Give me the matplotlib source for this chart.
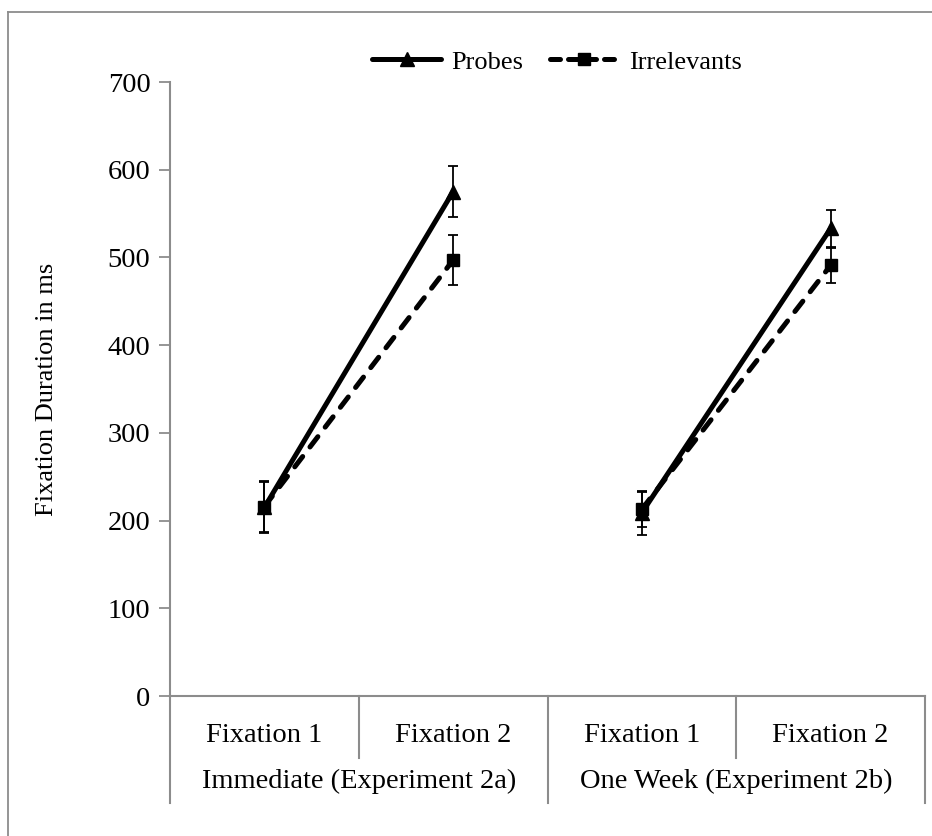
import matplotlib

matplotlib.use("Agg")
import matplotlib.pyplot as plt
from matplotlib.lines import Line2D

plt.rcParams["font.family"] = ["Liberation Serif", "DejaVu Serif"]

# two experiments, two fixations each
fixations = ["Fixation 1", "Fixation 2"]
groups = ["Immediate (Experiment 2a)", "One Week (Experiment 2b)"]

probes_mean = [[215, 575], [209, 533]]
probes_err = [[29, 29], [25, 21]]
irrel_mean = [[216, 497], [213, 491]]
irrel_err = [[29, 29], [20, 20]]

yticks = [0, 100, 200, 300, 400, 500, 600, 700]

W, H = 932, 836
GRAY = "#8c8c8c"
FS = 20.5
FS_SMALL = 19

fig = plt.figure(figsize=(W / 100, H / 100), dpi=100)

# axes placed in pixel terms to follow the reference layout
x0, x1, y_top, y_bot = 170, 925, 82, 696
ax = fig.add_axes([x0 / W, (H - y_bot) / H, (x1 - x0) / W, (y_bot - y_top) / H])
axh = y_bot - y_top

for g in range(2):
    xs = [2 * g, 2 * g + 1]
    ax.errorbar(xs, probes_mean[g], yerr=probes_err[g], color="black", lw=3.6,
                marker="^", ms=10, capsize=3.8, elinewidth=1.3, capthick=1.3,
                solid_capstyle="round", zorder=3)
    ax.errorbar(xs, irrel_mean[g], yerr=irrel_err[g], color="black", lw=3.6,
                marker="s", ms=8.5, capsize=3.8, elinewidth=1.3, capthick=1.3,
                dashes=(2.6, 2.4), dash_capstyle="round", zorder=3)

ax.set_xlim(-0.5, 3.5)
ax.set_ylim(0, 700)
ax.set_yticks(yticks)
ax.set_xticks([])
ax.tick_params(axis="y", length=8, width=1.3, color=GRAY, labelsize=FS, pad=6)
for side in ["top", "right"]:
    ax.spines[side].set_visible(False)
for side in ["left", "bottom"]:
    ax.spines[side].set_color(GRAY)
    ax.spines[side].set_linewidth(1.5)
ax.set_ylabel("Fixation Duration in ms", fontsize=FS_SMALL, labelpad=36)

# two-level category axis drawn below the plot area
trans = ax.get_xaxis_transform()
short = -(758 - y_bot) / axh
long_ = -(803 - y_bot) / axh
for xd, yb in [(-0.5, long_), (0.5, short), (1.5, long_), (2.5, short), (3.5, long_)]:
    ax.add_line(Line2D([xd, xd], [0, yb], transform=trans, color=GRAY, lw=1.5,
                       clip_on=False))
for i in range(4):
    ax.text(i, -(735 - y_bot) / axh, fixations[i % 2], transform=trans,
            ha="center", va="center", fontsize=FS)
for g in range(2):
    ax.text(2 * g + 0.5, -(781 - y_bot) / axh, groups[g], transform=trans,
            ha="center", va="center", fontsize=FS)

# legend at the top, no frame
h_probe = Line2D([], [], color="black", lw=3.6, marker="^", ms=10,
                 solid_capstyle="round")
h_irrel = Line2D([], [], color="black", lw=3.6, marker="s", ms=8.5,
                 dashes=(2.0, 1.6), dash_capstyle="round")
fig.legend([h_probe, h_irrel], ["Probes", "Irrelevants"], ncol=2, frameon=False,
           loc="center", bbox_to_anchor=(557 / W, 1 - 62 / H), fontsize=FS_SMALL,
           handlelength=2.6, handletextpad=0.4, columnspacing=1.0, numpoints=1)

# chart-area border (top and left visible in the reference)
fig.add_artist(Line2D([8 / W, 1], [1 - 12 / H, 1 - 12 / H], transform=fig.transFigure,
                      color=GRAY, lw=1.3))
fig.add_artist(Line2D([8 / W, 8 / W], [0, 1 - 12 / H], transform=fig.transFigure,
                      color=GRAY, lw=1.3))

fig.savefig("out.png", dpi=100)
